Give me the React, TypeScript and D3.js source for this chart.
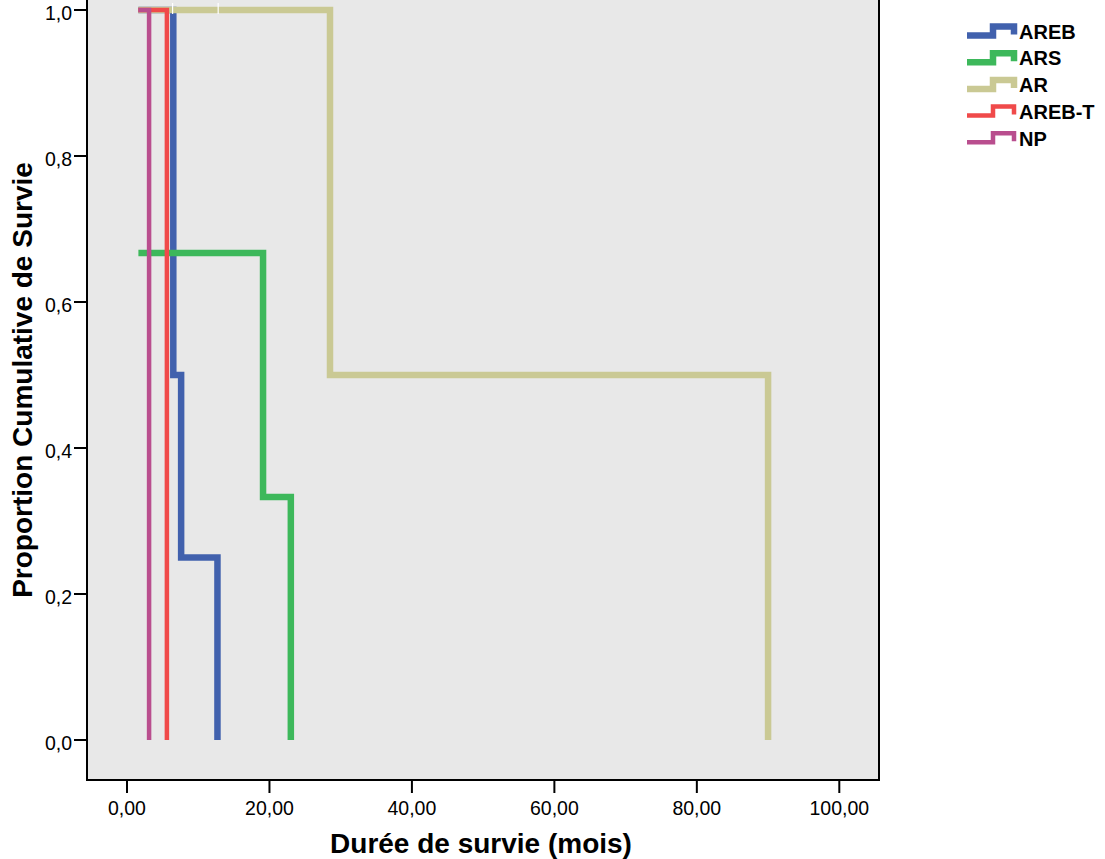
import * as d3 from 'd3';

// survival curves (time in months, survival after each step)
const groups = ['AREB', 'ARS', 'AR', 'AREB-T', 'NP'];
const colors = ['#4161ad', '#3db85b', '#cac994', '#f04a4a', '#b94e8e'];
const widths = [6.5, 6.5, 6.5, 4.5, 4.5];

const arebTimes = [1.6, 6.5, 7.6, 12.7];
const arebSurv = [1, 0.5, 0.25, 0];
const arsTimes = [1.6, 19.1, 23.0];
const arsSurv = [0.667, 0.333, 0];
const arTimes = [1.6, 28.5, 90.0];
const arSurv = [1, 0.5, 0];
const arebTTimes = [1.6, 5.6];
const arebTSurv = [1, 0];
const npTimes = [1.6, 3.1];
const npSurv = [1, 0];

// censored cases (AR group)
const arCensored = [6.4, 12.8];

const xTicks = [0, 20, 40, 60, 80, 100];
const yTicks = [0, 0.2, 0.4, 0.6, 0.8, 1.0];

const series = [
  { times: arebTimes, surv: arebSurv },
  { times: arsTimes, surv: arsSurv },
  { times: arTimes, surv: arSurv },
  { times: arebTTimes, surv: arebTSurv },
  { times: npTimes, surv: npSurv },
];

const fmt = (v: number, d: number) => v.toFixed(d).replace('.', ',');

export default function App() {
  const width = 1105;
  const height = 859;
  const plot = { left: 87, right: 879, top: 10, bottom: 780 };

  const x = d3.scaleLinear().domain([0, 100]).range([127, 839.3]);
  const y = d3.scaleLinear().domain([0, 1]).range([740, 10]);

  const line = d3
    .line<[number, number]>()
    .x((d) => x(d[0]))
    .y((d) => y(d[1]))
    .curve(d3.curveStepAfter);

  const font = 'Arial, "Liberation Sans", sans-serif';

  return (
    <svg
      width={width}
      height={height}
      style={{ position: 'absolute', left: 0, top: 0, background: '#fff' }}
    >
      {/* title, mostly outside the cropped view */}
      <text x={722} y={-1} fontFamily='"Liberation Serif", serif' fontSize={20} textAnchor="middle">
        Type
      </text>

      <rect
        x={plot.left}
        y={plot.top - 20}
        width={plot.right - plot.left}
        height={plot.bottom - plot.top + 20}
        fill="#e8e8e8"
        stroke="#000"
        strokeWidth={2}
      />

      {series.map((s, i) => {
        const pts = s.times.map((t, j) => [t, s.surv[j]] as [number, number]);
        return (
          <path
            key={groups[i]}
            d={line(pts) || ''}
            fill="none"
            stroke={colors[i]}
            strokeWidth={widths[i]}
            strokeLinejoin="miter"
          />
        );
      })}

      {arCensored.map((t) => (
        <line
          key={t}
          x1={x(t)}
          x2={x(t)}
          y1={y(1) - 7}
          y2={y(1) + 4}
          stroke="#fff"
          strokeWidth={1.2}
        />
      ))}

      {/* y axis */}
      {yTicks.map((v) => (
        <g key={v}>
          <line x1={plot.left - 13} x2={plot.left} y1={y(v)} y2={y(v)} stroke="#000" strokeWidth={2} />
          <text
            x={plot.left - 15}
            y={y(v) + 3}
            dy="0.36em"
            textAnchor="end"
            fontFamily={font}
            fontSize={19.5}
          >
            {fmt(v, 1)}
          </text>
        </g>
      ))}

      {/* x axis */}
      {xTicks.map((v) => (
        <g key={v}>
          <line x1={x(v)} x2={x(v)} y1={plot.bottom} y2={plot.bottom + 13} stroke="#000" strokeWidth={2} />
          <text x={x(v)} y={815} textAnchor="middle" fontFamily={font} fontSize={19.5}>
            {fmt(v, 2)}
          </text>
        </g>
      ))}

      <text
        x={481}
        y={853}
        textAnchor="middle"
        fontFamily={font}
        fontSize={28}
        fontWeight="bold"
      >
        Durée de survie (mois)
      </text>
      <text
        transform="translate(32,380) rotate(-90)"
        textAnchor="middle"
        fontFamily={font}
        fontSize={28}
        fontWeight="bold"
      >
        Proportion Cumulative de Survie
      </text>

      {/* legend */}
      {groups.map((g, i) => {
        const cy = 31.5 + i * 26.7;
        const d = `M967,${cy + 4} H993 V${cy - 5} H1014 V${cy + 3}`;
        return (
          <g key={g}>
            <path d={d} fill="none" stroke={colors[i]} strokeWidth={widths[i]} />
            <text x={1019} y={cy} dy="0.36em" fontFamily={font} fontSize={20} fontWeight="bold">
              {g}
            </text>
          </g>
        );
      })}
    </svg>
  );
}
